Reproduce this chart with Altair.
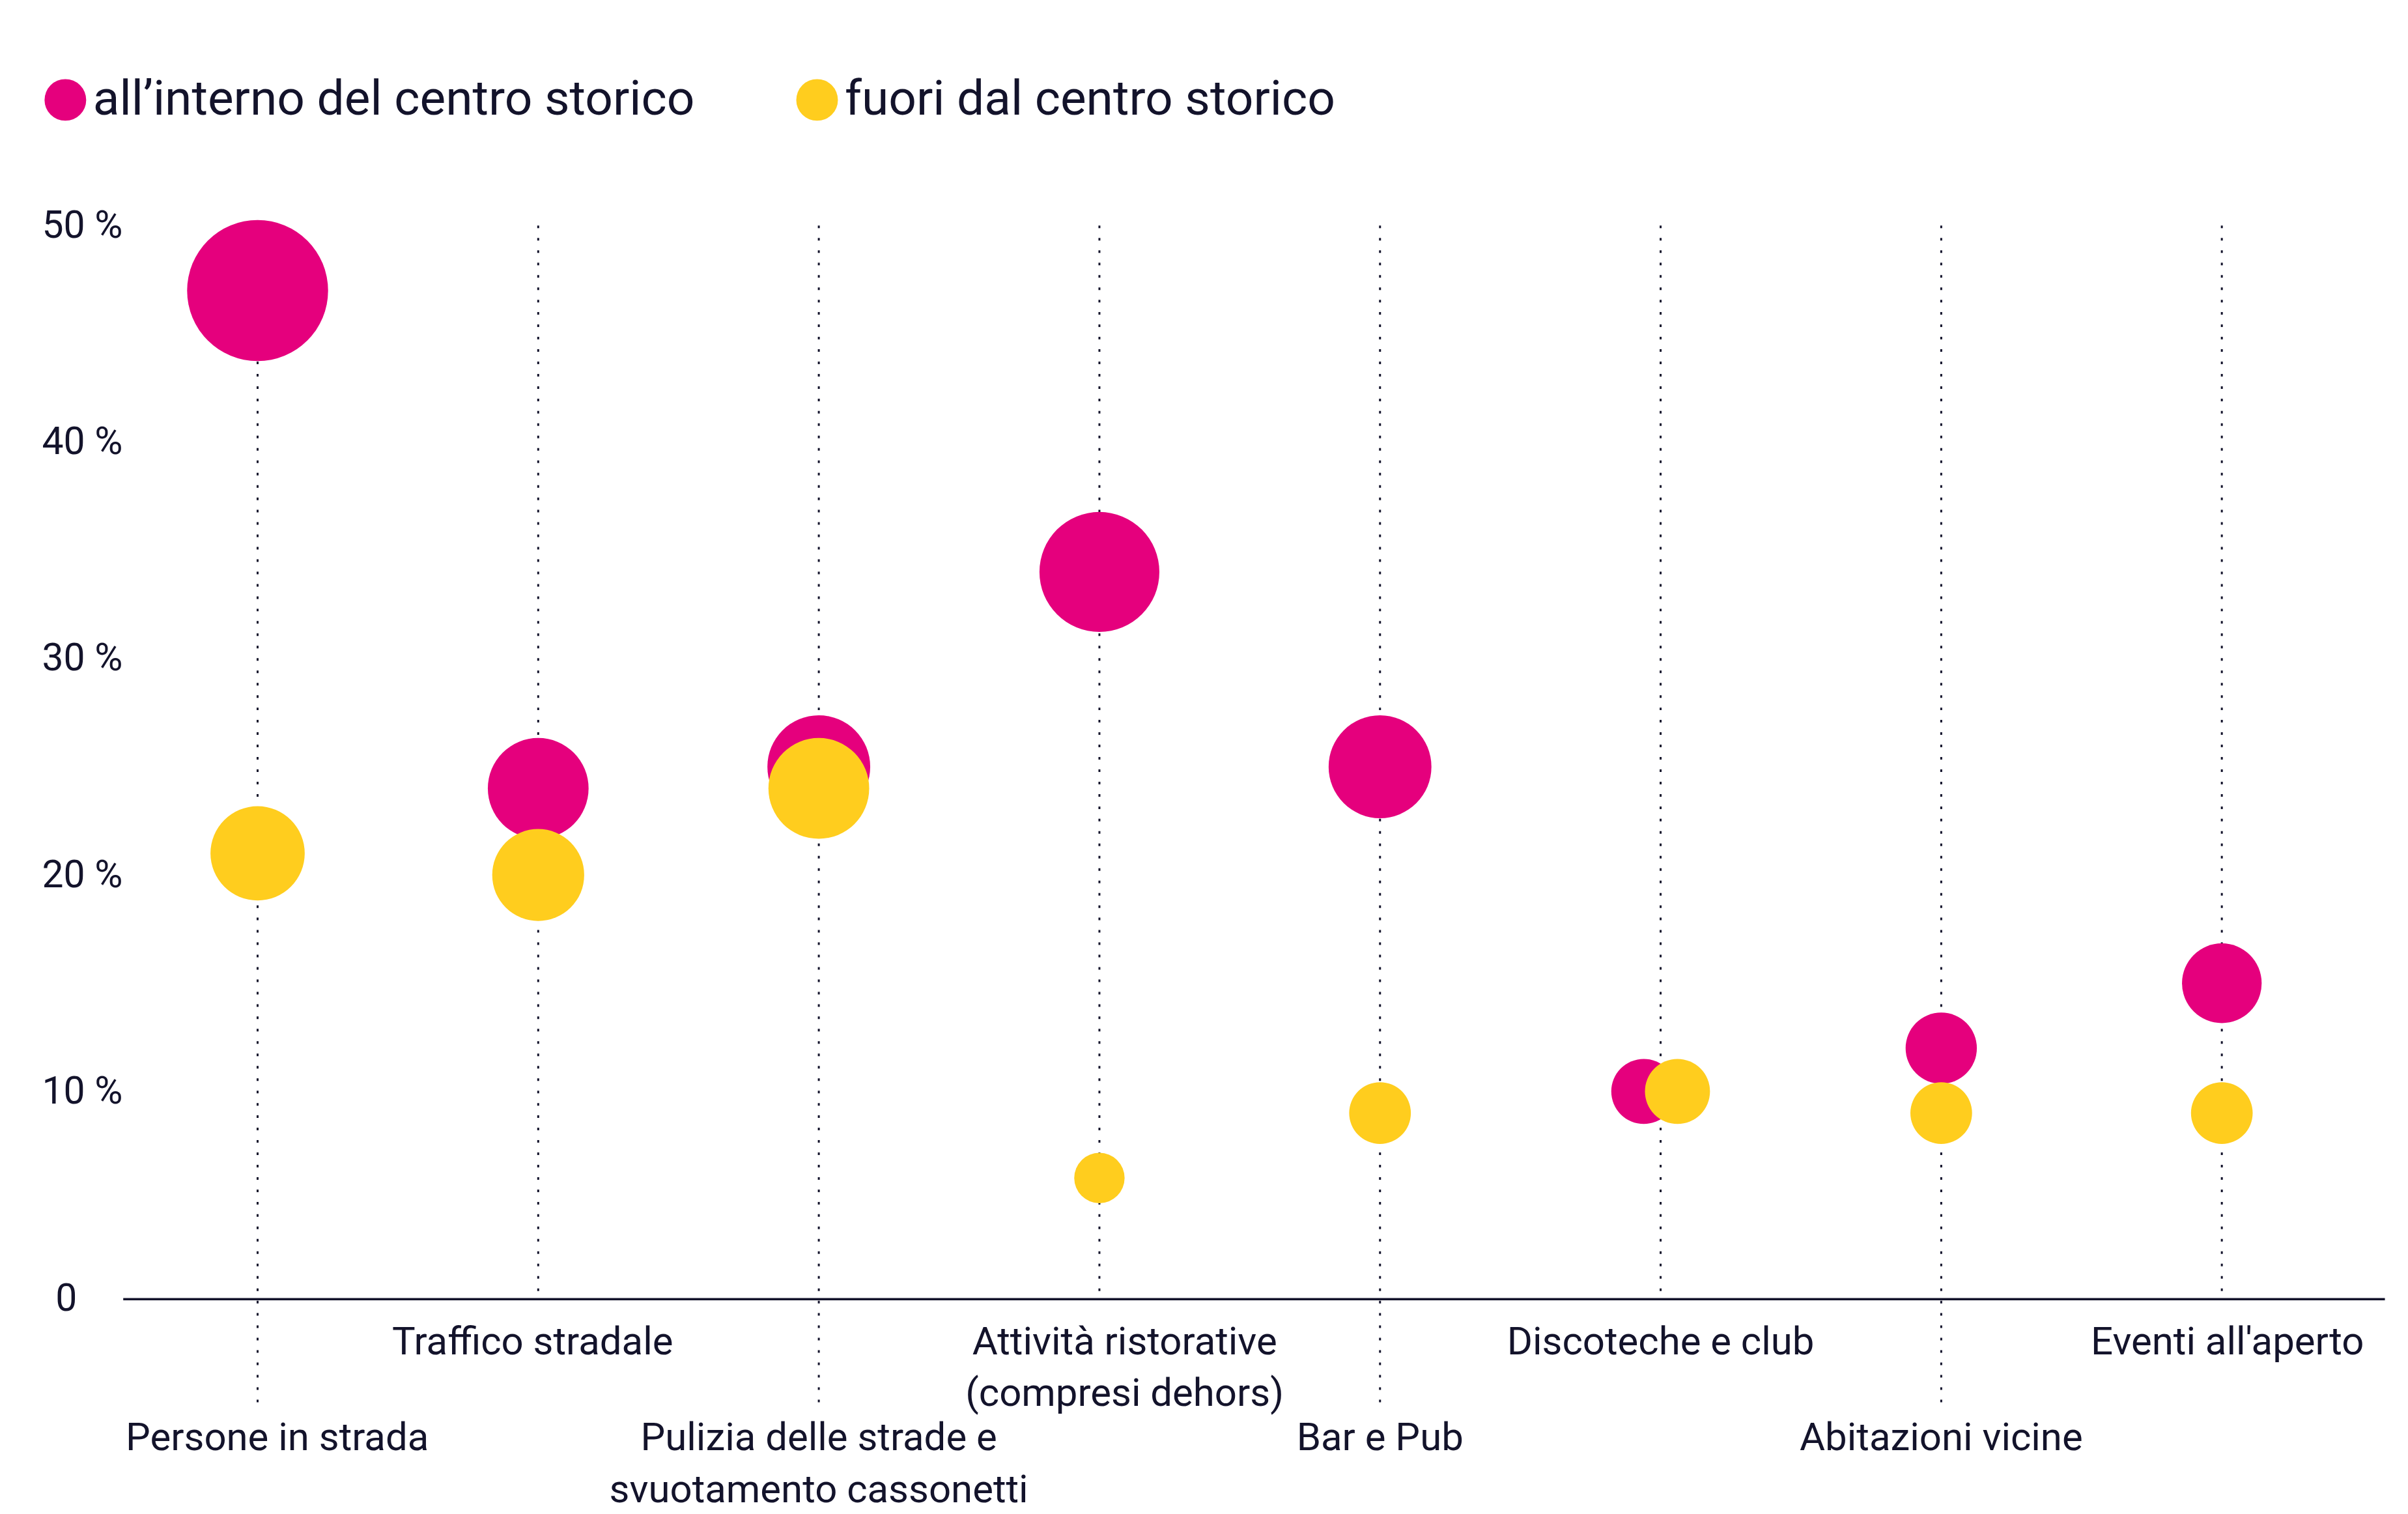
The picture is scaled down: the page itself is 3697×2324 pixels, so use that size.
import altair as alt
import pandas as pd

# ---- data ----
categories = [
    "Persone in strada",
    "Traffico stradale",
    "Pulizia delle strade e\nsvuotamento cassonetti",
    "Attività ristorative\n(compresi dehors)",
    "Bar e Pub",
    "Discoteche e club",
    "Abitazioni vicine",
    "Eventi all'aperto",
]
inside_values = [47, 24, 25, 34, 25, 10, 12, 15]
outside_values = [21, 20, 24, 6, 9, 10, 9, 9]
series = ["all’interno del centro storico", "fuori dal centro storico"]
y_ticks = [0, 10, 20, 30, 40, 50]

# ---- style / layout ----
colors = ["#E5007D", "#FFCD1E"]
ink = "#13132B"
font = "Roboto"
dodge = {"Discoteche e club": 0.06}           # side-by-side for equal values
label_nudge = {
    "Persone in strada": 0.07,
    "Traffico stradale": -0.02,
    "Attività ristorative\n(compresi dehors)": 0.09,
    "Eventi all'aperto": 0.02,
}
axis_level = 0.42                              # baseline drawn slightly above the 0 value
below_axis = -4.75                             # dotted line extension under lower labels

plot_w, plot_h = 3478, 1664
px_per_unit = plot_h / (max(y_ticks) - min(y_ticks))
axis_offset = -round(axis_level * px_per_unit)

rows = []
for s_i, (name, vals) in enumerate(zip(series, [inside_values, outside_values])):
    for i, (cat, v) in enumerate(zip(categories, vals)):
        off = dodge.get(cat, 0) * (-1 if s_i == 0 else 1)
        rows.append({"pos": i + off, "value": v, "group": name})
points_df = pd.DataFrame(rows)

rules_df = pd.DataFrame({
    "pos": list(range(len(categories))),
    "top": [max(y_ticks)] * len(categories),
    "bottom": [below_axis if i % 2 == 0 else axis_level for i in range(len(categories))],
})

labels_df = pd.DataFrame({
    "pos": [i + label_nudge.get(c, 0) for i, c in enumerate(categories)],
    "label": categories,
    "row": ["lower" if i % 2 == 0 else "upper" for i in range(len(categories))],
})

tick_positions = [axis_level if t == 0 else t for t in y_ticks]

x_scale = alt.Scale(domain=[-0.48, 7.58], nice=False, zero=False)
y_scale = alt.Scale(domain=[min(y_ticks), max(y_ticks)], nice=False, zero=True)

x_axis = alt.Axis(labels=False, ticks=False, title=None, grid=False,
                  domainColor=ink, domainWidth=3.5, offset=axis_offset)
y_axis = alt.Axis(values=tick_positions, title=None, ticks=False, domain=False, grid=False,
                  labelExpr="datum.value < 1 ? '0' : datum.value + ' %'",
                  labelAlign="left", labelBaseline="middle",
                  labelPadding={"condition": {"test": "datum.value < 1", "value": 104},
                                "value": 125},
                  labelFlush=False, labelOverlap=False,
                  labelFontSize=59, labelFont=font, labelColor=ink)

rules = alt.Chart(rules_df).mark_rule(strokeDash=[4, 15], strokeWidth=3, color=ink).encode(
    x=alt.X("pos:Q", scale=x_scale, axis=x_axis),
    y=alt.Y("top:Q", scale=y_scale, axis=y_axis),
    y2="bottom:Q",
)

points = alt.Chart(points_df).mark_circle(opacity=1, strokeWidth=0).encode(
    x=alt.X("pos:Q", scale=x_scale),
    y=alt.Y("value:Q", scale=y_scale),
    size=alt.Size("value:Q", scale=alt.Scale(domain=[0, 50], range=[0, 50000]), legend=None),
    color=alt.Color(
        "group:N",
        scale=alt.Scale(domain=series, range=colors),
        legend=alt.Legend(
            orient="none", legendX=-126, legendY=-231, direction="horizontal",
            title=None, labelFontSize=75, labelFont=font, labelColor=ink,
            symbolType="circle", symbolSize=4100, symbolStrokeWidth=0, symbolOpacity=1,
            labelOffset=5, columnPadding=150, labelLimit=3000, padding=0,
        ),
    ),
)

def label_layer(row, dy):
    return alt.Chart(labels_df[labels_df["row"] == row]).mark_text(
        align="center", baseline="top", dy=dy, fontSize=60, font=font, color=ink,
        lineBreak="\n", lineHeight=80,
    ).encode(
        x=alt.X("pos:Q", scale=x_scale),
        y=alt.Y(datum=axis_level, scale=y_scale),
        text="label:N",
    )

chart = alt.layer(
    rules, points, label_layer("upper", 38), label_layer("lower", 186)
).properties(
    width=plot_w, height=plot_h,
    autosize=alt.AutoSizeParams(type="none"),
    padding={"left": 181, "top": 337, "right": 28, "bottom": 2316 - 337 - plot_h},
).configure_view(stroke=None).configure_axis(grid=False)

chart.save("out.html", embed_options={"renderer": "svg", "actions": False})
